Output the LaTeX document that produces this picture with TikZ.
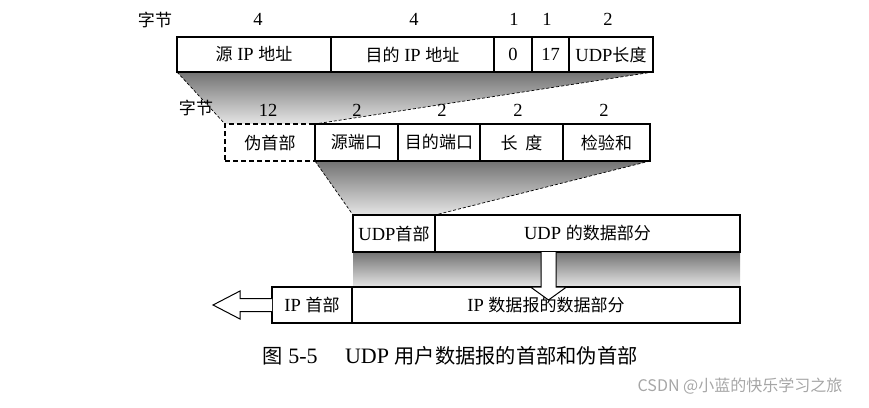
\documentclass[tikz,border=0pt]{standalone}
\usepackage{fontspec}
\setmainfont{Liberation Serif}
\newfontfamily\cjk{Noto Sans CJK SC}[Scale=0.92]
\newfontfamily\wmfont{Noto Sans CJK SC}
\newcommand\zh[1]{{\cjk #1}}
\begin{document}
\begin{tikzpicture}[x=1pt,y=-1pt,
  every node/.style={inner sep=0pt,outer sep=0pt,font=\fontsize{18.5}{22}\selectfont},
  cell/.style={draw,line width=1.1pt,fill=white},
  dcell/.style={draw,line width=1.1pt,dashed,dash pattern=on 5pt off 3pt,fill=white},
  proj/.style={line width=0.7pt,dash pattern=on 3pt off 2pt},
  shd/.style={top color=black!55,bottom color=black!10},
  hollow/.style={draw,line width=1pt,fill=white,line join=miter}]
\useasboundingbox (0,0) rectangle (869,407);

% ---- coordinates of the cells (no text yet)
\node[minimum width=154pt,minimum height=35pt] (srcip) at (254,54.5) {};
\node[minimum width=84pt,minimum height=35pt] (udplen) at (611,54.5) {};
\node[minimum width=90pt,minimum height=37pt] (pseudo) at (270,142.5) {};
\node[minimum width=83pt,minimum height=37pt] (srcport) at (356.5,142.5) {};
\node[minimum width=87pt,minimum height=37pt] (cksum) at (606.5,142.5) {};
\node[minimum width=82pt,minimum height=37pt] (udph) at (394,233.5) {};
\node[minimum width=305pt,minimum height=37pt] (udpdata) at (587.5,233.5) {};
\node[minimum width=388pt,minimum height=36pt] (ipdata) at (546,305) {};

% ---- projections (shaded)
\shade[shd] (srcip.south west) -- (udplen.south east) -- (pseudo.north east) -- (pseudo.north west) -- cycle;
\draw[proj] (srcip.south west) -- (pseudo.north west);
\draw[proj] (udplen.south east) -- (pseudo.north east);
\shade[shd] (srcport.south west) -- (cksum.south east) -- (udph.north east) -- (udph.north west) -- cycle;
\draw[proj] (srcport.south west) -- (udph.north west);
\draw[proj] (cksum.south east) -- (udph.north east);
\shade[shd] (udph.south west) rectangle (udpdata.south east |- ipdata.north);

% ---- row 1: pseudo header fields
\node[cell,minimum width=154pt,minimum height=35pt] at (srcip) {\zh{源} IP \zh{地址}};
\node[cell,minimum width=163pt,minimum height=35pt] (dstip) at (412.5,54.5) {\zh{目的} IP \zh{地址}};
\node[cell,minimum width=38pt,minimum height=35pt] (zero) at (513,54.5) {0};
\node[cell,minimum width=37pt,minimum height=35pt] (proto) at (550.5,54.5) {17};
\node[cell,minimum width=84pt,minimum height=35pt] at (udplen) {UDP\zh{长度}};
\node (b0) at (155,20) {\zh{字节}};
\node at (258,19) {4};
\node at (414,19) {4};
\node at (514,19) {1};
\node at (547,19) {1};
\node at (608,19) {2};

% ---- row 2: pseudo header + UDP header
\node[dcell,minimum width=90pt,minimum height=37pt] at (pseudo) {\zh{伪首部}};
\node[cell,minimum width=83pt,minimum height=37pt] at (srcport) {\zh{源端口}};
\node[cell,minimum width=82pt,minimum height=37pt] (dstport) at (439,142.5) {\zh{目的端口}};
\node[cell,minimum width=83pt,minimum height=37pt] (ulen) at (521.5,142.5) {\zh{长\ \ 度}};
\node[cell,minimum width=87pt,minimum height=37pt] at (cksum) {\zh{检验和}};
\node (b1) at (196,108) {\zh{字节}};
\node at (268,110) {12};
\node at (357,110) {2};
\node at (442,110) {2};
\node at (518,110) {2};
\node at (604,110) {2};

% ---- row 3 and row 4 boxes
\node[cell,minimum width=82pt,minimum height=37pt] at (udph) {UDP\zh{首部}};
\node[cell,minimum width=305pt,minimum height=37pt] at (udpdata) {UDP \zh{的数据部分}};
\node[cell,minimum width=80pt,minimum height=36pt] (iph) at (312,305) {IP \zh{首部}};
\node[cell,minimum width=388pt,minimum height=36pt] at (ipdata) {IP \zh{数据报的数据部分}};

% ---- hollow down arrow
\coordinate (da) at (548.5,252);
\draw[hollow] ([xshift=-7.5pt]da) -- ([xshift=-7.5pt,yshift=-35pt]da) -- ([xshift=-18pt,yshift=-35pt]da)
  -- ([yshift=-48pt]da) -- ([xshift=18pt,yshift=-35pt]da) -- ([xshift=7.5pt,yshift=-35pt]da) -- ([xshift=7.5pt]da);

% ---- hollow left arrow
\draw[hollow] (iph.west) ++(0,-6.5) -- ++(-32,0) -- ++(0,-7.5) -- ++(-27,14) -- ++(27,14) -- ++(0,-7.5) -- ++(32,0);

% ---- caption and watermark
\node[font=\fontsize{22}{26}\selectfont] (cap) at (450,356) {\zh{图} 5-5\hspace{1.25em}UDP \zh{用户数据报的首部和伪首部}};
\node[font=\fontsize{16}{19}\selectfont\wmfont,text=black!35] (wm) at (740,386) {CSDN @小蓝的快乐学习之旅};
\end{tikzpicture}
\end{document}
